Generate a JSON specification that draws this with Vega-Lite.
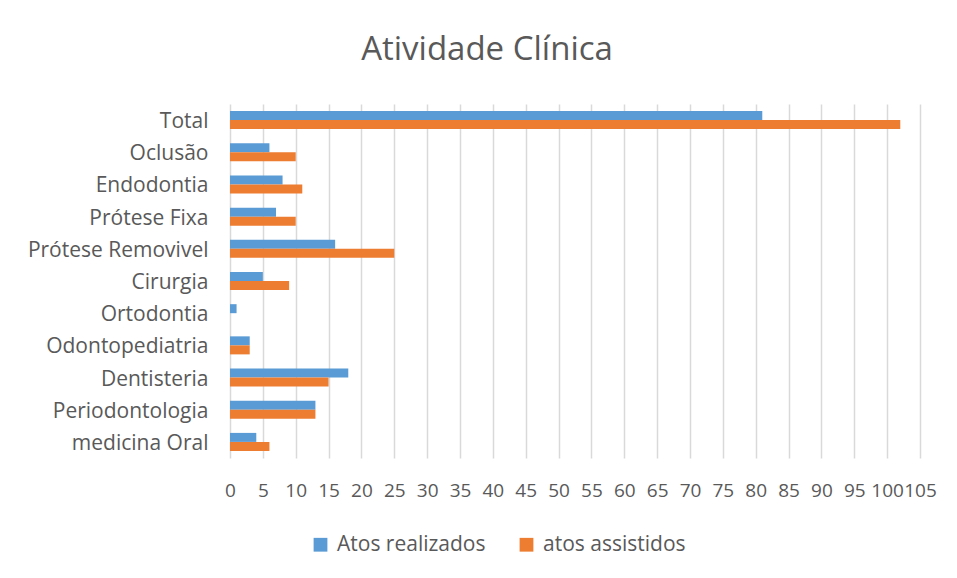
{
  "$schema": "https://vega.github.io/schema/vega-lite/v6.json",
  "autosize": "none",
  "width": 690,
  "height": 354,
  "padding": {"left": 230, "top": 104, "right": 37, "bottom": 120},
  "background": "white",
  "title": {
    "text": "Atividade Clínica",
    "anchor": "middle",
    "frame": "group",
    "dx": -88,
    "offset": 37,
    "fontSize": 33,
    "font": "Open Sans",
    "fontWeight": "normal",
    "color": "#595959"
  },
  "data": {
    "values": [
      {"categoria": "Total", "serie": "Atos realizados", "valor": 81},
      {"categoria": "Total", "serie": "atos assistidos", "valor": 102},
      {"categoria": "Oclusão", "serie": "Atos realizados", "valor": 6},
      {"categoria": "Oclusão", "serie": "atos assistidos", "valor": 10},
      {"categoria": "Endodontia", "serie": "Atos realizados", "valor": 8},
      {"categoria": "Endodontia", "serie": "atos assistidos", "valor": 11},
      {"categoria": "Prótese Fixa", "serie": "Atos realizados", "valor": 7},
      {"categoria": "Prótese Fixa", "serie": "atos assistidos", "valor": 10},
      {"categoria": "Prótese Removivel", "serie": "Atos realizados", "valor": 16},
      {"categoria": "Prótese Removivel", "serie": "atos assistidos", "valor": 25},
      {"categoria": "Cirurgia", "serie": "Atos realizados", "valor": 5},
      {"categoria": "Cirurgia", "serie": "atos assistidos", "valor": 9},
      {"categoria": "Ortodontia", "serie": "Atos realizados", "valor": 1},
      {"categoria": "Ortodontia", "serie": "atos assistidos", "valor": 0},
      {"categoria": "Odontopediatria", "serie": "Atos realizados", "valor": 3},
      {"categoria": "Odontopediatria", "serie": "atos assistidos", "valor": 3},
      {"categoria": "Dentisteria", "serie": "Atos realizados", "valor": 18},
      {"categoria": "Dentisteria", "serie": "atos assistidos", "valor": 15},
      {"categoria": "Periodontologia", "serie": "Atos realizados", "valor": 13},
      {"categoria": "Periodontologia", "serie": "atos assistidos", "valor": 13},
      {"categoria": "medicina Oral", "serie": "Atos realizados", "valor": 4},
      {"categoria": "medicina Oral", "serie": "atos assistidos", "valor": 6}
    ]
  },
  "mark": {"type": "bar"},
  "encoding": {
    "y": {
      "field": "categoria",
      "type": "nominal",
      "sort": ["Total", "Oclusão", "Endodontia", "Prótese Fixa", "Prótese Removivel", "Cirurgia", "Ortodontia", "Odontopediatria", "Dentisteria", "Periodontologia", "medicina Oral"],
      "scale": {"paddingInner": 0.44, "paddingOuter": 0.22},
      "axis": {
        "title": null,
        "ticks": false,
        "domain": false,
        "labelFont": "Open Sans",
        "labelFontSize": 21,
        "labelColor": "#595959",
        "labelPadding": 22,
        "labelLimit": 400,
        "labelOffset": 2
      }
    },
    "yOffset": {
      "field": "serie",
      "type": "nominal",
      "sort": ["Atos realizados", "atos assistidos"],
      "scale": {"paddingInner": 0}
    },
    "x": {
      "field": "valor",
      "type": "quantitative",
      "scale": {"domain": [0, 105], "nice": false},
      "axis": {
        "title": null,
        "values": [0, 5, 10, 15, 20, 25, 30, 35, 40, 45, 50, 55, 60, 65, 70, 75, 80, 85, 90, 95, 100, 105],
        "ticks": false,
        "domain": false,
        "grid": true,
        "gridColor": "#d9d9d9",
        "gridWidth": 1.5,
        "labelFont": "Open Sans",
        "labelFontSize": 19,
        "labelColor": "#595959",
        "labelPadding": 23,
        "labelFlush": false,
        "labelOverlap": false
      }
    },
    "color": {
      "field": "serie",
      "type": "nominal",
      "sort": ["Atos realizados", "atos assistidos"],
      "scale": {"domain": ["Atos realizados", "atos assistidos"], "range": ["#5B9BD5", "#ED7D31"]},
      "legend": {
        "title": null,
        "orient": "none",
        "direction": "horizontal",
        "legendX": 80,
        "legendY": 430,
        "symbolType": "square",
        "symbolSize": 190,
        "symbolStrokeWidth": 0,
        "labelFont": "Open Sans",
        "labelFontSize": 21,
        "labelColor": "#595959",
        "columnPadding": 30,
        "labelOffset": 6
      }
    }
  },
  "config": {"view": {"stroke": null}}
}
